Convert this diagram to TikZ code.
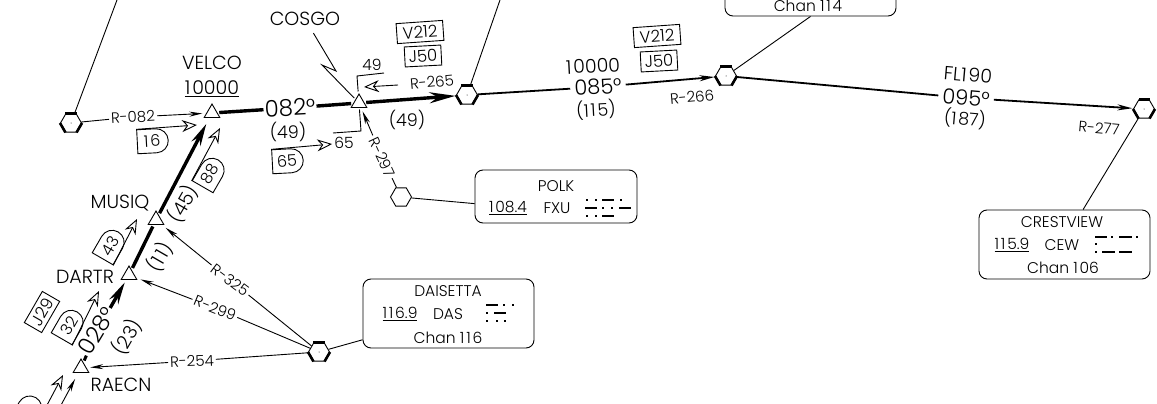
\documentclass[tikz,border=0pt]{standalone}
\usepackage{fontspec}
\setmainfont{Poppins}[UprightFont=* Light]
\usetikzlibrary{shapes.geometric,shapes.misc,arrows.meta}
\newcommand{\wone}{1\kern1.8pt}
\begin{document}
\begin{tikzpicture}[x=1pt,y=1pt]
\tikzstyle{every node}+=[inner sep=2pt]
\tikzstyle{navtext}=[font=\fontsize{15.5}{15.5}\selectfont]
\tikzstyle{radtext}=[font=\fontsize{15}{15}\selectfont]
\tikzstyle{fixtext}=[font=\fontsize{19}{19}\selectfont]
\tikzstyle{bigtext}=[font=\fontsize{23}{23}\selectfont,inner sep=1pt]
\tikzstyle{crstext}=[font=\fontsize{21}{21}\selectfont,inner sep=4pt]
\tikzstyle{midtext}=[font=\fontsize{17.5}{17.5}\selectfont,inner sep=1pt]
\tikzstyle{alttext}=[font=\fontsize{19}{19}\selectfont,inner sep=1pt]
\tikzstyle{vorsym}=[draw,regular polygon,regular polygon sides=6,minimum size=21pt,inner sep=0pt,line width=0.9pt]
\tikzstyle{fixsym}=[draw,regular polygon,regular polygon sides=3,minimum size=18pt,inner sep=0pt,outer sep=2pt,line width=0.9pt]
\tikzstyle{navbox}=[draw,rounded corners=8pt,minimum width=171pt,minimum height=69pt,inner sep=0pt,line width=0.9pt]
\tikzstyle{flag}=[draw,rounded rectangle,rounded rectangle left arc=none,minimum width=31pt,minimum height=24pt,inner sep=0pt,line width=0.9pt,font=\fontsize{16}{16}\selectfont]
\tikzstyle{awybox}=[draw,inner xsep=4pt,inner ysep=0pt,minimum height=20pt,line width=0.9pt,font=\fontsize{16.5}{16.5}\selectfont]
\tikzstyle{thin}=[line width=0.9pt]
\tikzstyle{radial}=[line width=0.9pt,-{Stealth[length=13pt,width=5pt]},shorten >=2pt]
\tikzstyle{openarrow}=[line width=0.9pt,-{Stealth[open,length=15pt,width=12pt]}]
\tikzstyle{airway}=[line width=3.4pt]
\tikzstyle{route}=[line width=1.8pt]
\tikzstyle{morse}=[line width=2.4pt]
\useasboundingbox (0,0) rectangle (1157,-404);
\clip (0,0) rectangle (1157,-404);
\node [vorsym] (vorw) at (71,-123) {};
\node [vorsym] (vora) at (467,-95) {};
\node [vorsym] (vorb) at (726,-76) {};
\node [vorsym] (vorc) at (1144,-109) {};
\node [vorsym] (vord) at (319,-352) {};
\node [vorsym] (vorp) at (401,-197) {};
\foreach \v in {vorw,vora,vorb,vorc,vord} {
  \draw [line width=2.6pt] (\v.corner 1) -- (\v.corner 2);
  \draw [line width=2.6pt] (\v.corner 3) -- (\v.corner 4);
  \draw [line width=2.6pt] (\v.corner 5) -- (\v.corner 6);
  \fill (\v) circle (0.5);
}
\node [fixsym] (velco) at (212,-113) {};
\node [fixsym] (cosgo) at (359,-103) {};
\node [fixsym] (musiq) at (156,-220) {};
\node [fixsym] (dartr) at (129,-275) {};
\node [fixsym] (raecn) at (81,-368) {};
\node [fixtext] (velconame) at (212,-63) {VELCO};
\node [fixtext] (velcoalt) at (212,-89) {\underline{\wone 0000}};
\node [fixtext] (cosgoname) at (305,-19) {COSGO};
\node [fixtext] (musiqname) at (120,-203) {MUSIQ};
\node [fixtext] (dartrname) at (85,-277) {DARTR};
\node [fixtext] (raecnname) at (121,-385) {RAECN};
\node [navbox] (polkbox) at (556,-196.5) [minimum width=162pt,minimum height=53pt] {};
\node [navtext] (polkname) at (556,-186) {POLK};
\node [navtext] (polkfreq) at (508,-208) {\underline{\wone 08.4}};
\node [navtext] (polkid) at (557,-208) {FXU};
\node [navbox] (dasbox) at (448.5,-313.5) {};
\node [navtext] (dasname) at (448,-291) {DAISETTA};
\node [navtext] (dasfreq) at (400,-314) {\underline{\wone\wone 6.9}};
\node [navtext] (dasid) at (448,-314) {DAS};
\node [navtext] (daschan) at (448,-338) {Chan \wone\wone 6};
\node [navbox] (cewbox) at (1064.5,-244.5) {};
\node [navtext] (cewname) at (1062,-222) {CRESTVIEW};
\node [navtext] (cewfreq) at (1012,-245) {\underline{\wone\wone 5.9}};
\node [navtext] (cewid) at (1062,-245) {CEW};
\node [navtext] (cewchan) at (1063,-268) {Chan \wone 06};
\node [navbox] (topbox) at (810.5,14) [minimum height=60pt] {};
\node [navtext] (topchan) at (808,-6) {Chan \wone\wone 4};
\foreach \x/\y/\l in {486/305/12,503/305/2.4,512/305/2.4,486/313/2.4,494/313/12,486/321/2.4,496/321/2.4,504/321/2.4,
  586/200/2.4,595/200/2.4,602/200/12,620/200/2.4,585/208/12,602/208/2.4,611/208/2.4,619/208/12,586/216/2.4,595/216/2.4,602/216/12,
  1095/237/12,1111/237/2.4,1119/237/13,1136/237/2.4,1095/244/2.4,1095/252/2.4,1102/252/13,1119/252/13}
  \draw [morse] (\x,-\y) -- ++(\l,0);
\node [radtext,rotate=3] (r082) at (133,-117) {R-082};
\node [radtext,rotate=5] (r265) at (432,-82) {R-265};
\node [radtext,rotate=5] (r266) at (692,-97) {R-266};
\node [radtext,rotate=-5] (r277) at (1099,-128) {R-277};
\node [radtext,rotate=-65] (r297) at (382,-157) {R-297};
\node [radtext,rotate=-37] (r325) at (230,-280) {R-325};
\node [radtext,rotate=-22] (r299) at (215,-308) {R-299};
\node [radtext,rotate=2] (r254) at (192,-361) {R-254};
\node [bigtext,rotate=3] (crs082) at (290,-108) {082°};
\node [midtext] (dst49a) at (288,-132) {(49)};
\node [midtext] (dst49b) at (407,-120) {(49)};
\node [alttext,rotate=3] (alt085) at (593,-66) {\wone 0000};
\node [crstext,rotate=3] (crs085) at (598,-87) {085°};
\node [midtext,rotate=3] (dst115) at (596,-110) {(\wone\wone 5)};
\node [alttext,rotate=-5] (fl190) at (968,-75) {FL\wone 90};
\node [crstext,rotate=-5] (crs095) at (966,-98) {095°};
\node [midtext,rotate=-5] (dst187) at (965,-119) {(\wone 87)};
\node [bigtext,rotate=59] (crs028) at (97,-331) {028°};
\node [alttext,rotate=60] (dst23) at (127,-337) {(23)};
\node [alttext,rotate=60] (dst11) at (160,-257) {(\wone\kern1pt 1)};
\node [alttext,rotate=60] (dst45) at (183,-204) {(45)};
\node [awybox,rotate=4,inner xsep=6pt] (v212a) at (420,-32) {V212};
\node [awybox,rotate=3] (j50a) at (423,-56) {J50};
\node [awybox,rotate=4,inner xsep=6pt] (v212b) at (657,-36) {V212};
\node [awybox,rotate=3] (j50b) at (659,-61) {J50};
\node [awybox,rotate=60] (j29) at (42,-312) {J29};
\node [flag,rotate=3] (flag16) at (152,-141) {\wone 6};
\node [flag,rotate=3] (flag65) at (287,-161) {65};
\node [flag,rotate=60] (flag88) at (210,-174) {88};
\node [flag,rotate=60] (flag43) at (110,-246) {43};
\node [flag,rotate=60] (flag32) at (69,-326) {32};
\node [flag,rotate=60] (flagz) at (28,-411) {};
\node [navtext] (mea49) at (372,-65) {49};
\node [navtext] (mea65) at (344,-143) {65};
\coordinate (tip16) at (197,-125);
\coordinate (tip88) at (220,-128);
\coordinate (tip43) at (137,-219);
\coordinate (tip32) at (99,-291);
\coordinate (tipz) at (63,-375);
\coordinate (startz) at (46,-407);
\coordinate (routez) at (60,-407);
\coordinate (tip265) at (364,-87);
\coordinate (tail265) at (398,-85);
\coordinate (topw) at (117,0);
\coordinate (topa) at (500,0);
\coordinate (boltA) at (336,-71);
\coordinate (boltB) at (322,-65);
\coordinate (mea49a) at (384,-73);
\coordinate (mea49b) at (357,-76);
\coordinate (mea65a) at (361,-131);
\coordinate (mea65b) at (333,-133);
\draw [thin] (vorw) -- (topw);
\draw [thin] (vora) -- (topa);
\draw [thin] (vorw) -- (r082);
\draw [radial] (r082) -- (velco);
\draw [airway] (velco) -- (crs082);
\draw [airway] (crs082) -- (cosgo);
\draw [airway,-{Stealth[length=26pt,width=11pt]},shorten >=1pt] (cosgo) -- (vora);
\draw [route] (vora) -- (crs085);
\draw [route,-{Stealth[length=15pt,width=6pt]},shorten >=1pt] (crs085) -- (vorb);
\draw [route] (vorb) -- (crs095);
\draw [route,-{Stealth[length=15pt,width=6pt]},shorten >=1pt] (crs095) -- (vorc);
\draw [thin] (topbox.270) -- (vorb);
\draw [thin] (cewbox.62) -- (vorc);
\draw [thin] (vorp) -- (polkbox.185);
\draw [thin] (vord) -- (dasbox.197);
\draw [thin] (vorp) -- (r297);
\draw [radial] (r297) -- (cosgo);
\draw [thin] (vord) -- (r325);
\draw [radial] (r325) -- (musiq);
\draw [thin] (vord) -- (r299);
\draw [radial] (r299) -- (dartr);
\draw [thin] (vord) -- (r254);
\draw [radial] (r254) -- (raecn);
\draw [thin,shorten <=6pt] (cosgoname) -- (boltA) -- (boltB) -- (cosgo);
\draw [thin] (mea49a) -- (mea49b) -- (cosgo);
\draw [thin] (cosgo) -- (mea65a) -- (mea65b);
\draw [airway,line width=3pt] (raecn) -- (crs028);
\draw [airway,-{Stealth[length=22pt,width=10pt]},shorten >=1pt] (crs028) -- (dartr);
\draw [airway] (dartr) -- (musiq);
\draw [airway,-{Stealth[length=22pt,width=10pt]},shorten >=5pt] (musiq) -- (velco);
\draw [openarrow] (flag16.north west) -- (tip16);
\draw [openarrow] (flag65.north west) -- (mea65);
\draw [openarrow] (flag88.north west) -- (tip88);
\draw [openarrow] (flag43.south west) -- (tip43);
\draw [openarrow] (flag32.south west) -- (tip32);
\draw [openarrow] (startz) -- (tipz);
\draw [openarrow] (tail265) -- (tip265);
\draw [radial,shorten >=5pt] (routez) -- (raecn);
\end{tikzpicture}
\end{document}
